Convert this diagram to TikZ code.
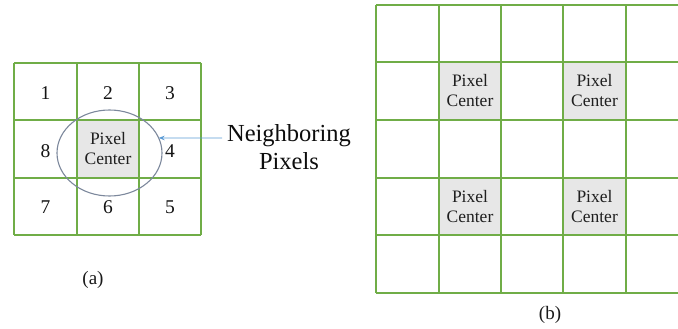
\documentclass[tikz,border=0pt]{standalone}
\usepackage{fontspec}
\setmainfont{Liberation Serif}
\usetikzlibrary{shapes.geometric,arrows.meta}
\definecolor{gridgreen}{RGB}{112,173,71}
\definecolor{cellgray}{RGB}{231,231,231}
\definecolor{ringgray}{RGB}{124,136,156}
\definecolor{arrowblue}{RGB}{91,155,213}
\begin{document}
\begin{tikzpicture}[x=1pt,y=-1pt,
  gridline/.style={draw=gridgreen,line width=2pt},
  centercell/.style={fill=cellgray},
  num/.style={font=\fontsize{19.5}{21}\selectfont,text=black!92},
  pc/.style={font=\fontsize{17.5}{20}\selectfont,text=black!88,align=center},
  figlabel/.style={font=\fontsize{19}{21}\selectfont,text=black!90},
  ring/.style={draw=ringgray,line width=1.1pt,ellipse,inner sep=0pt,outer sep=0pt,
    minimum width=105pt,minimum height=86pt},
  pointer/.style={draw=arrowblue,line width=0.8pt,-{Stealth[length=6pt,width=4.5pt]}}]
\useasboundingbox (0,0) rectangle (678,329);

% ---- (a) 3x3 neighbourhood ----
\fill[centercell] (77,120) rectangle (139,178);
\foreach \x in {14,77,139,201} \draw[gridline] (\x,63) -- (\x,235);
\foreach \y in {63,120,178,235} \draw[gridline] (14,\y) -- (201,\y);

\node[num] (n1) at (45.5,93) {1};
\node[num] (n2) at (108,93) {2};
\node[num] (n3) at (170,93) {3};
\node[num] (n8) at (45.5,151) {8};
\node[num] (n4) at (170,151) {4};
\node[num] (n7) at (45.5,207) {7};
\node[num] (n6) at (108,207) {6};
\node[num] (n5) at (170,207) {5};
\node[pc] (pa) at (108,149) {Pixel\\Center};

\node[ring] (ell) at (109.5,153) {};
\node[font=\fontsize{24.5}{28}\selectfont,text=black!95,align=center] (nb) at (289,147.5)
  {Neighboring\\Pixels};
\coordinate (tail) at (222,138);
\draw[pointer] (tail) -- (ell.17);

\node[figlabel] (capa) at (93,280) {(a)};

% ---- (b) sparse pixel centres ----
\foreach \cx/\cy in {439/62,563/62,439/178,563/178}
  \fill[centercell] (\cx,\cy) rectangle ++(62,58);
\foreach \x in {376,439,501,563,626} \draw[gridline] (\x,5) -- (\x,293);
\foreach \y in {5,62,120,178,235,293} \draw[gridline] (376,\y) -- (678,\y);

\node[pc] (pb1) at (470,91) {Pixel\\Center};
\node[pc] (pb2) at (594.5,91) {Pixel\\Center};
\node[pc] (pb3) at (470,207) {Pixel\\Center};
\node[pc] (pb4) at (594.5,207) {Pixel\\Center};

\node[figlabel] (capb) at (550,315) {(b)};
\end{tikzpicture}
\end{document}
